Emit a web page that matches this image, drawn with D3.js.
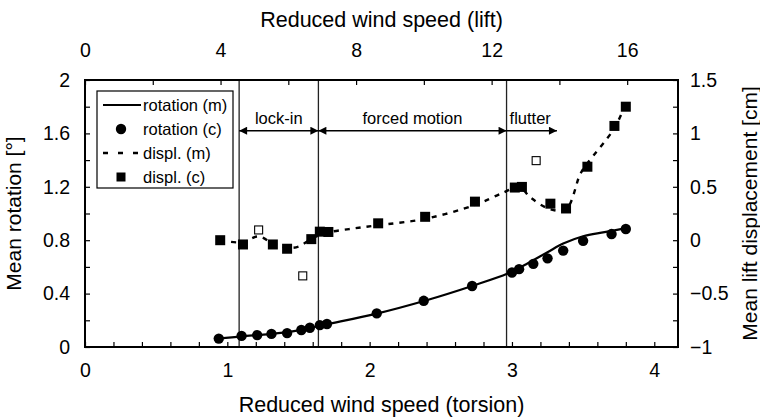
<!DOCTYPE html>
<html><head><meta charset="utf-8">
<script src="https://cdn.jsdelivr.net/npm/d3@7"></script>
<style>
body{margin:0;background:#fff}
svg{display:block;font-family:"Liberation Sans",Arial,sans-serif}
</style>
</head><body>
<svg id="chart" width="760" height="417"></svg>
<script>
// Mean rotation, computed (c) and measured (m), vs reduced wind speed (torsion)
const rotCalcX = [0.94,1.10,1.21,1.31,1.42,1.52,1.58,1.65,1.70,2.05,2.38,2.72,3.00,3.05,3.15,3.25,3.36,3.50,3.70,3.80];
const rotCalcY = [0.063,0.083,0.089,0.098,0.104,0.127,0.144,0.164,0.172,0.252,0.346,0.457,0.558,0.583,0.623,0.664,0.722,0.795,0.846,0.884];
const rotMeasX = [0.94,1.10,1.30,1.50,1.70,2.05,2.40,2.72,2.97,3.10,3.25,3.36,3.50,3.65,3.80];
const rotMeasY = [0.063,0.080,0.097,0.125,0.170,0.250,0.350,0.457,0.550,0.620,0.710,0.775,0.830,0.860,0.890];

// Mean lift displacement [cm]
const dispCalcX = [0.95,1.11,1.32,1.42,1.59,1.65,1.71,2.06,2.39,2.74,3.02,3.07,3.27,3.38,3.53,3.72,3.80];
const dispCalcY = [0.00,-0.04,-0.04,-0.08,0.01,0.08,0.077,0.158,0.219,0.361,0.493,0.499,0.342,0.297,0.688,1.07,1.25];
const dispMeasX = [0.95,1.10,1.22,1.32,1.42,1.50,1.60,1.70,1.86,2.06,2.39,2.74,2.94,3.05,3.13,3.27,3.38,3.48,3.53,3.72,3.80];
const dispMeasY = [0.00,-0.02,0.035,-0.03,-0.07,-0.06,0.02,0.07,0.105,0.14,0.20,0.33,0.446,0.50,0.40,0.29,0.29,0.62,0.72,1.05,1.28];
// outlying computed displacements (open squares)
const dispOutX = [1.22,1.53,3.17];
const dispOutY = [0.096,-0.334,0.745];

// regime boundaries (torsion reduced wind speed) and labels
const bounds = [1.083,1.64,2.962];
const regimes = [
  {label:"lock-in", from:1.083, to:1.64, both:true},
  {label:"forced motion", from:1.64, to:2.962, both:true},
  {label:"flutter", from:2.962, to:3.316, both:false}
];
const arrowLevel = 1.62;   // rotation units

// axis ticks
const bottomMajor = [0,1,2,3,4];
const topMajor = [0,4,8,12,16];
const leftMajor = [0,0.4,0.8,1.2,1.6,2];
const rightMajor = [-1,-0.5,0,0.5,1,1.5];
const liftPerTorsion = 4.2;
const liftMax = 17.5;

const legendItems = ["rotation (m)","rotation (c)","displ. (m)","displ. (c)"];

const L = 85, R = 678, T = 80, B = 347;
const svg = d3.select("#chart");

const x = d3.scaleLinear().domain([0, liftMax/liftPerTorsion]).range([L,R]);
const xTop = d3.scaleLinear().domain([0, liftMax]).range([L,R]);
const yL = d3.scaleLinear().domain([0,2]).range([B,T]);
const yR = d3.scaleLinear().domain([-1,1.5]).range([B,T]);

const fmt = d => (Math.abs(d) < 1e-9 ? "0" : d3.format("~g")(+d.toFixed(3)));
const isIn = (arr, v) => arr.some(a => Math.abs(a - v) < 1e-6);

function styleAxis(g, size){
  g.select(".domain").remove();
  g.selectAll(".tick line").attr("stroke","#000").attr("stroke-width",1.2);
  g.selectAll(".tick text").attr("font-size",size).attr("fill","#000").attr("font-family",'"Liberation Sans",Arial,sans-serif');
}

// bottom axis (torsion)
svg.append("g").attr("transform",`translate(0,${B})`)
  .call(d3.axisBottom(x).tickValues(d3.range(0,4.2,0.2).map(v=>+v.toFixed(2)))
    .tickSizeInner(-5).tickSizeOuter(0).tickPadding(16)
    .tickFormat(d => isIn(bottomMajor,d) ? fmt(d) : ""))
  .call(g => styleAxis(g,19.5));

// top axis (lift)
svg.append("g").attr("transform",`translate(0,${T})`)
  .call(d3.axisTop(xTop).tickValues(d3.range(0,17.5,2))
    .tickSizeInner(-5).tickSizeOuter(0).tickPadding(23)
    .tickFormat(d => isIn(topMajor,d) ? fmt(d) : ""))
  .call(g => styleAxis(g,19.5));

// left axis (rotation)
svg.append("g").attr("transform",`translate(${L},0)`)
  .call(d3.axisLeft(yL).tickValues(d3.range(0,2.01,0.2).map(v=>+v.toFixed(2)))
    .tickSizeInner(-5).tickSizeOuter(0).tickPadding(15)
    .tickFormat(d => isIn(leftMajor,d) ? fmt(d) : ""))
  .call(g => styleAxis(g,19.5));

// right axis (displacement)
svg.append("g").attr("transform",`translate(${R},0)`)
  .call(d3.axisRight(yR).tickValues(d3.range(-1,1.51,0.25).map(v=>+v.toFixed(2)))
    .tickSizeInner(-5).tickSizeOuter(0).tickPadding(12)
    .tickFormat(d => isIn(rightMajor,d) ? fmt(d) : ""))
  .call(g => styleAxis(g,19.5));

// axis titles
svg.append("text").attr("x",(L+R)/2).attr("y",27).attr("text-anchor","middle")
  .attr("font-size",21.5).text("Reduced wind speed (lift)");
svg.append("text").attr("x",(L+R)/2).attr("y",412).attr("text-anchor","middle")
  .attr("font-size",21.5).text("Reduced wind speed (torsion)");
svg.append("text").attr("transform",`translate(21,${(T+B)/2}) rotate(-90)`).attr("text-anchor","middle")
  .attr("font-size",21).text("Mean rotation [°]");
svg.append("text").attr("transform",`translate(757,${(T+B)/2}) rotate(-90)`).attr("text-anchor","middle")
  .attr("font-size",21).text("Mean lift displacement [cm]");

// regime boundaries
svg.append("g").selectAll("line").data(bounds).join("line")
  .attr("x1",d=>x(d)).attr("x2",d=>x(d)).attr("y1",yL(2)).attr("y2",yL(0))
  .attr("stroke","#222").attr("stroke-width",1.3);

// arrowheads
const defs = svg.append("defs");
defs.append("marker").attr("id","ah").attr("viewBox","0 0 10 10").attr("refX",10).attr("refY",5)
  .attr("markerWidth",10).attr("markerHeight",8).attr("markerUnits","userSpaceOnUse").attr("orient","auto-start-reverse")
  .append("path").attr("d","M0,0 L10,5 L0,10 Z").attr("fill","#000");

const reg = svg.append("g");
regimes.forEach(r => {
  reg.append("line").attr("x1",x(r.from)).attr("x2",x(r.to))
    .attr("y1",yL(arrowLevel)).attr("y2",yL(arrowLevel))
    .attr("stroke","#000").attr("stroke-width",1.3)
    .attr("marker-end","url(#ah)")
    .attr("marker-start", r.both ? "url(#ah)" : null);
  reg.append("text").attr("x", r.both ? (x(r.from)+x(r.to))/2 : x(r.from)+3)
    .attr("y", yL(arrowLevel)-7)
    .attr("text-anchor", r.both ? "middle" : "start")
    .attr("font-size",16.5).text(r.label);
});

// curves
const rotMeas = rotMeasX.map((v,i)=>[v,rotMeasY[i]]);
const dispMeas = dispMeasX.map((v,i)=>[v,dispMeasY[i]]);
svg.append("path").datum(rotMeas)
  .attr("d", d3.line().x(d=>x(d[0])).y(d=>yL(d[1])).curve(d3.curveCatmullRom))
  .attr("fill","none").attr("stroke","#000").attr("stroke-width",2.2);
svg.append("path").datum(dispMeas)
  .attr("d", d3.line().x(d=>x(d[0])).y(d=>yR(d[1])).curve(d3.curveCatmullRom))
  .attr("fill","none").attr("stroke","#000").attr("stroke-width",2.4).attr("stroke-dasharray","5,6");

// markers
const sq = 10;
svg.append("g").selectAll("circle").data(rotCalcX.map((v,i)=>[v,rotCalcY[i]])).join("circle")
  .attr("cx",d=>x(d[0])).attr("cy",d=>yL(d[1])).attr("r",5.2).attr("fill","#000");
svg.append("g").selectAll("rect").data(dispCalcX.map((v,i)=>[v,dispCalcY[i]])).join("rect")
  .attr("x",d=>x(d[0])-sq/2).attr("y",d=>yR(d[1])-sq/2).attr("width",sq).attr("height",sq).attr("fill","#000");
svg.append("g").selectAll("rect").data(dispOutX.map((v,i)=>[v,dispOutY[i]])).join("rect")
  .attr("x",d=>x(d[0])-4).attr("y",d=>yR(d[1])-4).attr("width",8).attr("height",8)
  .attr("fill","#fff").attr("stroke","#000").attr("stroke-width",1.1);

// legend
const lg = svg.append("g");
lg.append("rect").attr("x",97).attr("y",91).attr("width",136).attr("height",97)
  .attr("fill","#fff").attr("stroke","#000").attr("stroke-width",1.2);
const rows = [105,129,153,177];
lg.append("line").attr("x1",103).attr("x2",141).attr("y1",rows[0]).attr("y2",rows[0]).attr("stroke","#000").attr("stroke-width",2.2);
lg.append("circle").attr("cx",121).attr("cy",rows[1]).attr("r",5.2).attr("fill","#000");
lg.append("line").attr("x1",103).attr("x2",141).attr("y1",rows[2]).attr("y2",rows[2]).attr("stroke","#000").attr("stroke-width",2.4).attr("stroke-dasharray","5,10");
lg.append("rect").attr("x",121-4.5).attr("y",rows[3]-4.5).attr("width",9).attr("height",9).attr("fill","#000");
lg.selectAll("text").data(legendItems).join("text")
  .attr("x",143).attr("y",(d,i)=>rows[i]).attr("dy","0.36em").attr("font-size",16.5).text(d=>d);

// frame
svg.append("rect").attr("x",L).attr("y",T).attr("width",R-L).attr("height",B-T)
  .attr("fill","none").attr("stroke","#000").attr("stroke-width",2);
</script>
</body></html>
